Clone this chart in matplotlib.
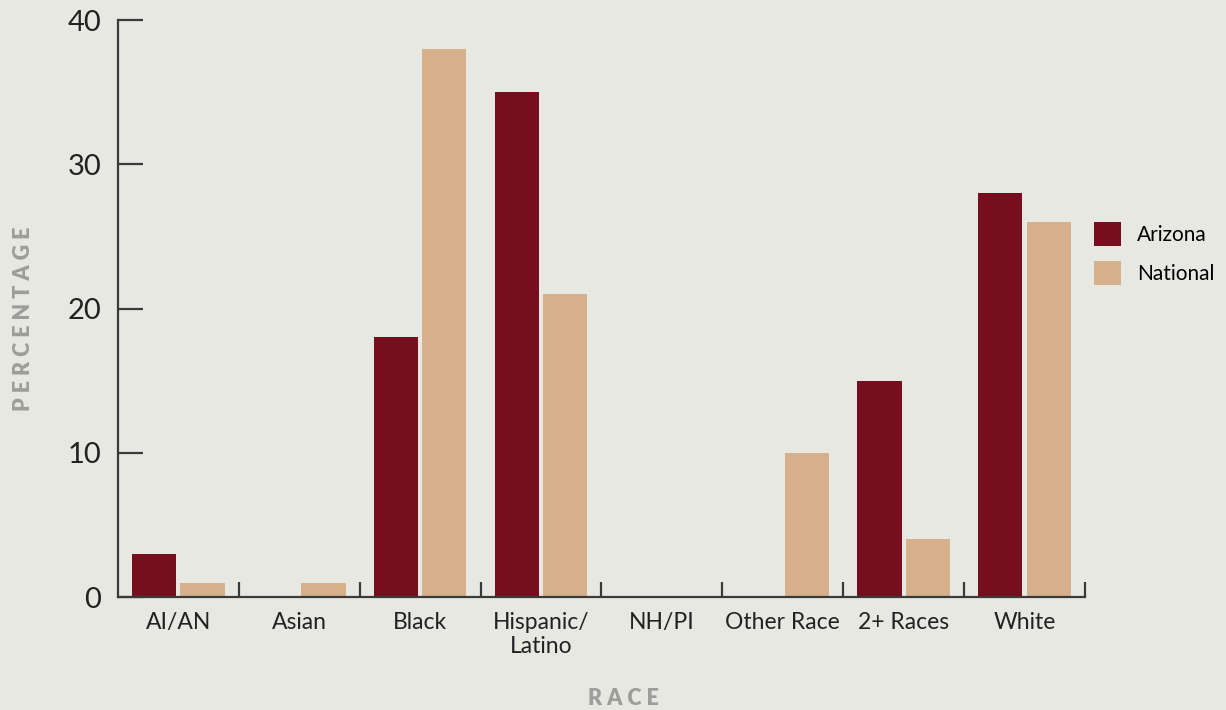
import numpy as np
import matplotlib.pyplot as plt
from matplotlib.ticker import FixedLocator

categories = ['AI/AN', 'Asian', 'Black', 'Hispanic/\nLatino', 'NH/PI',
              'Other Race', '2+ Races', 'White']
arizona = [3, 0, 18, 35, 0, 0, 15, 28]
national = [1, 1, 38, 21, 0, 10, 4, 26]

bg = '#e8e8e3'
red = '#760e1e'
tan = '#d5b08a'
ink = '#222222'
spine_col = '#3a3a3a'
label_gray = '#9d9d99'

plt.rcParams['font.family'] = ['Lato', 'DejaVu Sans']

fig = plt.figure(figsize=(12.26, 7.10), dpi=100, facecolor=bg)
ax = fig.add_axes([0.0962, 0.159, 0.7888, 0.8128], facecolor=bg)

x = np.arange(len(categories))
w = 0.365
ax.bar(x - 0.2, arizona, w, color=red, label='Arizona')
ax.bar(x + 0.2, national, w, color=tan, label='National')

ax.set_xlim(-0.5, len(categories) - 0.5)
ax.set_ylim(0, 40)

for s in ['top', 'right']:
    ax.spines[s].set_visible(False)
for s in ['left', 'bottom']:
    ax.spines[s].set_color(spine_col)
    ax.spines[s].set_linewidth(1.6)

ax.set_yticks([0, 10, 20, 30, 40])
ax.tick_params(axis='y', direction='in', length=18, width=1.6, color=spine_col,
               labelsize=21, labelcolor=ink, pad=12)

ax.set_xticks(x)
ax.set_xticklabels(categories, fontsize=16.5, color=ink, linespacing=1.15)
ax.tick_params(axis='x', which='major', length=0, pad=11)
ax.xaxis.set_minor_locator(FixedLocator(np.arange(0.5, len(categories), 1.0)))
ax.tick_params(axis='x', which='minor', direction='in', length=11, width=1.6,
               color=spine_col)

ax.set_ylabel('P E R C E N T A G E', fontsize=15.5, fontweight='heavy',
              color=label_gray)
ax.yaxis.set_label_coords(-0.087, 0.483)
ax.set_xlabel('R A C E', fontsize=15.5, fontweight='heavy', color=label_gray)
ax.xaxis.set_label_coords(0.523, -0.158)

ax.legend(loc='upper left', bbox_to_anchor=(0.892, 0.687),
          bbox_transform=fig.transFigure, frameon=False, fontsize=15,
          handlelength=1.3, handleheight=1.35, handletextpad=0.8,
          labelspacing=0.75, borderaxespad=0, borderpad=0)

fig.savefig('out.png', dpi=100, facecolor=bg)
